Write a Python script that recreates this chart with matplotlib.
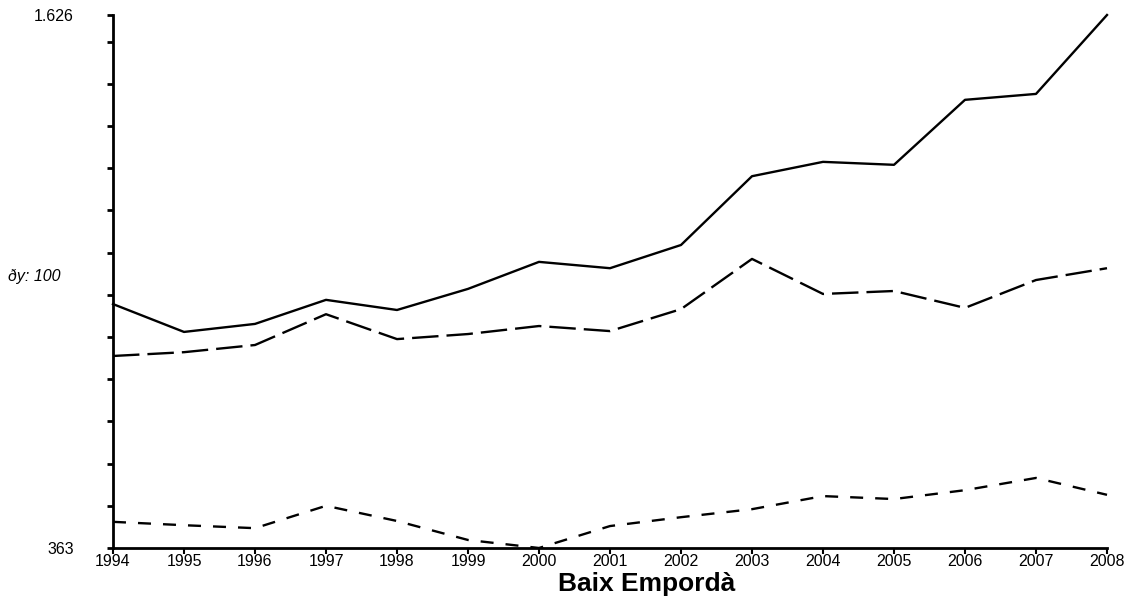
import matplotlib.pyplot as plt
import numpy as np

plt.rcParams['font.family'] = ['Liberation Sans', 'DejaVu Sans']

# dades llegides del gràfic
years = list(range(1994, 2009))
serie_total = [941, 875, 894, 951, 927, 977, 1041, 1026, 1081, 1244, 1278, 1271, 1425, 1439, 1626]
serie_mitja = [818, 827, 844, 917, 858, 870, 889, 877, 929, 1048, 965, 972, 932, 998, 1026]
serie_baixa = [425, 417, 410, 463, 427, 382, 363, 415, 436, 455, 486, 479, 500, 529, 489]

y_min, y_max, y_step = 363, 1626, 100
y_labels = ['363', '1.626']
titol = 'Baix Empordà'

fig = plt.figure(figsize=(11.29, 6.11), dpi=100)
ax = fig.add_axes([113 / 1129, 1 - 548 / 611, (1107 - 113) / 1129, (548 - 15) / 611])

lw = 1.7
ax.plot(years, serie_total, color='black', lw=lw, clip_on=False)
ax.plot(years, serie_mitja, color='black', lw=lw, linestyle=(0, (11.2, 3.4)), clip_on=False)
ax.plot(years, serie_baixa, color='black', lw=lw, linestyle=(0, (5.5, 5.1)), clip_on=False)

ax.set_xlim(years[0], years[-1])
ax.set_ylim(y_min, y_max)

for s in ['top', 'right']:
    ax.spines[s].set_visible(False)
for s in ['left', 'bottom']:
    ax.spines[s].set_linewidth(2)

ax.set_xticks(years)
ax.set_xticklabels([str(y) for y in years], fontsize=11.5)
ax.tick_params(axis='x', direction='out', length=4, width=1.5, pad=0)

yt = list(np.arange(y_min, y_max, y_step)) + [y_max]
ax.set_yticks(yt)
ax.set_yticklabels([y_labels[0]] + [''] * (len(yt) - 2) + [y_labels[1]], fontsize=11.5)
ax.tick_params(axis='y', direction='out', length=4, width=2, pad=24)

fig.text(8 / 1129, 1 - 276 / 611, 'ðy: 100', fontsize=11.5, style='italic', va='center', ha='left')
fig.text(647 / 1129, 1 - 584 / 611, titol, fontsize=19, fontweight='bold', ha='center', va='center')

fig.savefig('out.png', dpi=100)
